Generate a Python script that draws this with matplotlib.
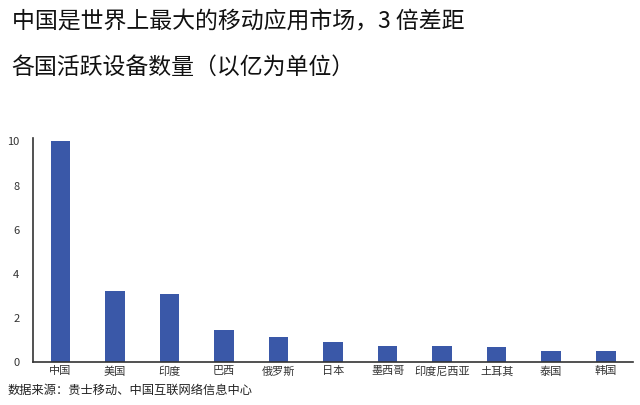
import numpy as np
import matplotlib.pyplot as plt

plt.rcParams['font.family'] = ['Noto Sans CJK SC', 'DejaVu Sans']

countries = ['中国', '美国', '印度', '巴西', '俄罗斯', '日本', '墨西哥', '印度尼西亚', '土耳其', '泰国', '韩国']
devices = [10.0, 3.2, 3.1, 1.45, 1.15, 0.92, 0.74, 0.74, 0.67, 0.5, 0.5]

fig = plt.figure(figsize=(6.4, 4.05), dpi=100)
ax = fig.add_axes([0.052, 0.106, 0.937, 0.553])

x = np.arange(len(countries))
ax.bar(x, devices, width=0.36, color='#3A58A8')
ax.set_xlim(-0.5, len(countries) - 0.5)
ax.set_ylim(0, 10.15)
ax.set_yticks([0, 2, 4, 6, 8, 10])
ax.set_xticks(x)
ax.set_xticklabels(countries, fontsize=8, color='#333333')
ax.tick_params(axis='both', length=0)
ax.tick_params(axis='y', labelsize=8, colors='#333333', pad=10)
ax.tick_params(axis='x', pad=3)
for s in ['top', 'right']:
    ax.spines[s].set_visible(False)
ax.spines['left'].set_color('#333333')
ax.spines['bottom'].set_color('#333333')
ax.spines['left'].set_linewidth(1.2)
ax.spines['bottom'].set_linewidth(1.2)

fig.text(0.018, 0.945, '中国是世界上最大的移动应用市场，3 倍差距', fontsize=16.5, va='center', color='#111111')
fig.text(0.018, 0.833, '各国活跃设备数量（以亿为单位）', fontsize=16.5, va='center', color='#111111')
fig.text(0.012, 0.035, '数据来源：贵士移动、中国互联网络信息中心', fontsize=8.8, va='center', color='#222222')

fig.savefig('out.png', dpi=100)
